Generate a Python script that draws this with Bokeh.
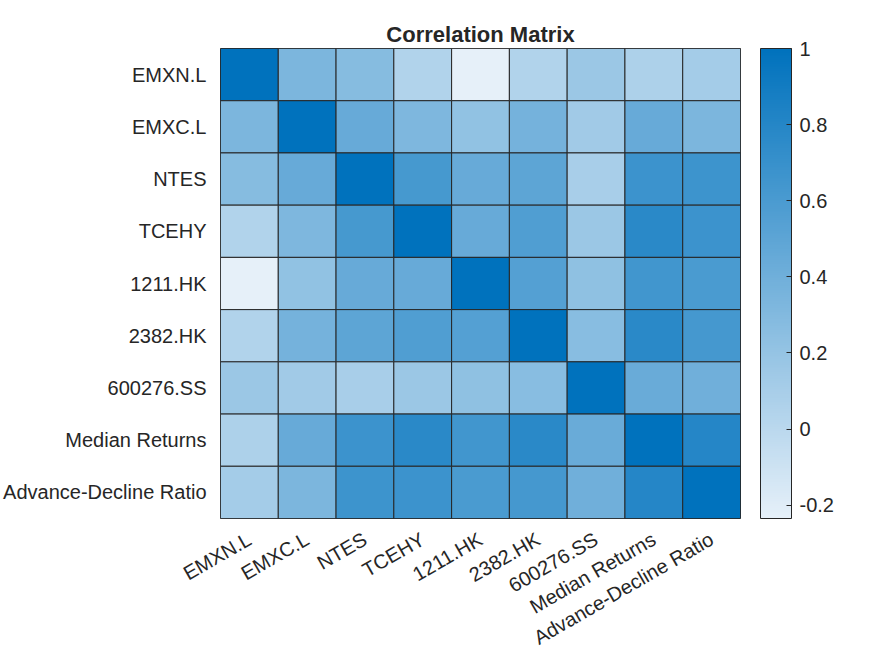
import math
from bokeh.plotting import figure
from bokeh.models import (ColumnDataSource, LinearColorMapper, ColorBar, FactorRange,
                          FixedTicker)
from bokeh.embed import file_html
from bokeh.resources import INLINE

labels = ["EMXN.L", "EMXC.L", "NTES", "TCEHY", "1211.HK", "2382.HK",
          "600276.SS", "Median Returns", "Advance-Decline Ratio"]

row_emxn = [1.00, 0.33, 0.28, 0.05, -0.235, 0.05, 0.17, 0.07, 0.12]
row_emxc = [0.33, 1.00, 0.45, 0.32, 0.22, 0.37, 0.14, 0.45, 0.33]
row_ntes = [0.28, 0.45, 1.00, 0.62, 0.45, 0.50, 0.10, 0.68, 0.67]
row_tcehy = [0.05, 0.32, 0.62, 1.00, 0.45, 0.57, 0.17, 0.77, 0.68]
row_1211 = [-0.235, 0.22, 0.45, 0.45, 1.00, 0.55, 0.23, 0.65, 0.60]
row_2382 = [0.05, 0.37, 0.50, 0.57, 0.55, 1.00, 0.27, 0.77, 0.63]
row_600276 = [0.17, 0.14, 0.10, 0.17, 0.23, 0.27, 1.00, 0.44, 0.40]
row_median = [0.07, 0.45, 0.68, 0.77, 0.65, 0.77, 0.44, 1.00, 0.80]
row_adr = [0.12, 0.33, 0.67, 0.68, 0.60, 0.63, 0.40, 0.80, 1.00]

rows = [row_emxn, row_emxc, row_ntes, row_tcehy, row_1211, row_2382,
        row_600276, row_median, row_adr]

cbar_ticks = [-0.2, 0, 0.2, 0.4, 0.6, 0.8, 1]
cbar_tick_labels = ["-0.2", "0", "0.2", "0.4", "0.6", "0.8", "1"]

# colormap: light blue to MATLAB blue
c0 = (230, 240, 249)
c1 = (0, 114, 189)
n = 256
palette = []
for i in range(n):
    t = i / (n - 1)
    r = round(c0[0] + (c1[0] - c0[0]) * t)
    g = round(c0[1] + (c1[1] - c0[1]) * t)
    b = round(c0[2] + (c1[2] - c0[2]) * t)
    palette.append("#%02x%02x%02x" % (r, g, b))

xs, ys, vs = [], [], []
for i, row in enumerate(rows):
    for j, v in enumerate(row):
        xs.append(labels[j])
        ys.append(labels[i])
        vs.append(v)

vmin = min(vs)
vmax = max(vs)
mapper = LinearColorMapper(palette=palette, low=vmin, high=vmax)

src = ColumnDataSource(dict(x=xs, y=ys, v=vs))

p = figure(x_range=FactorRange(*labels), y_range=FactorRange(*reversed(labels)),
           frame_width=520, frame_height=470, width=875, height=656,
           min_border_left=220, min_border_right=135, min_border_top=48,
           min_border_bottom=138, output_backend="svg", toolbar_location=None,
           title="Correlation Matrix")

p.rect(x="x", y="y", width=1, height=1, source=src,
       fill_color={"field": "v", "transform": mapper},
       line_color="#262626", line_width=1)

p.title.align = "center"
p.title.text_font = "Liberation Sans"
p.title.text_font_size = "22px"
p.title.text_font_style = "bold"
p.title.text_color = "#262626"
p.title.offset = 0
p.title.standoff = 4

p.grid.visible = False
p.outline_line_color = "#262626"
p.outline_line_width = 1
for ax in (p.xaxis, p.yaxis):
    ax.axis_line_color = None
    ax.major_tick_line_color = None
    ax.minor_tick_line_color = None
    ax.major_label_text_font = "Liberation Sans"
    ax.major_label_text_font_size = "20px"
    ax.major_label_text_color = "#262626"
    ax.major_label_standoff = 8
p.xaxis.major_label_orientation = math.pi / 6
p.xaxis.major_label_standoff = 13

cb = ColorBar(color_mapper=mapper, ticker=FixedTicker(ticks=cbar_ticks),
              major_label_overrides={t: s for t, s in zip(cbar_ticks, cbar_tick_labels)},
              width=31, height=470, padding=20, margin=0, label_standoff=8,
              location=(0, -20),
              major_label_text_font="Liberation Sans",
              major_label_text_font_size="20px",
              major_label_text_color="#262626",
              major_tick_line_color="#262626", major_tick_in=5, major_tick_out=0,
              bar_line_color="#262626", bar_line_width=1,
              background_fill_alpha=0)
p.add_layout(cb, "right")

open("out.html", "w").write(file_html(p, INLINE))
